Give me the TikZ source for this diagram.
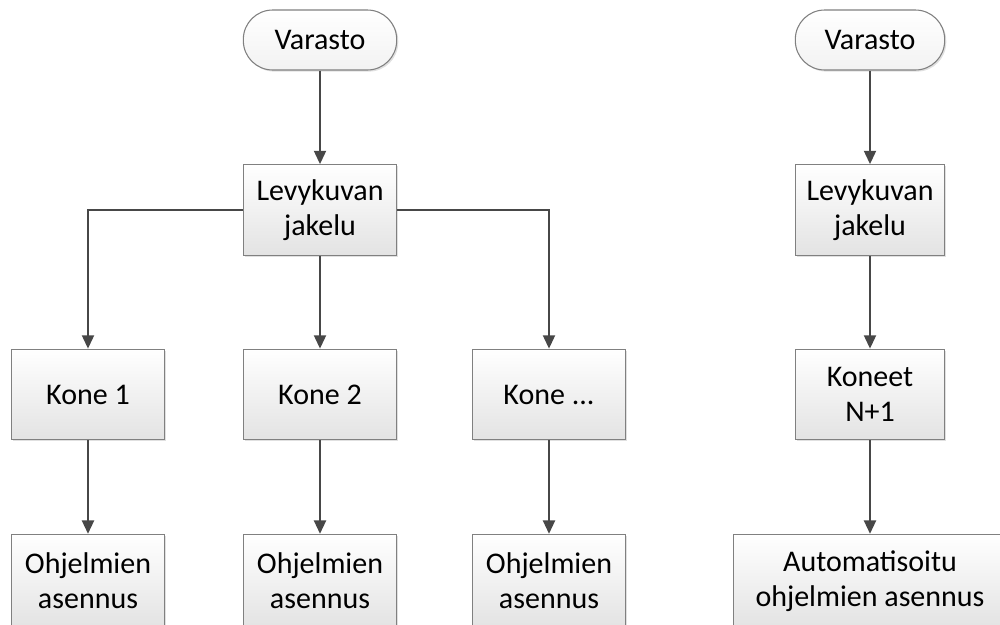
\documentclass[tikz,border=0pt]{standalone}
\usepackage{fontspec}
\setmainfont{Carlito}
\usetikzlibrary{arrows.meta,shadows}
\begin{document}
\begin{tikzpicture}[x=0.75pt,y=-0.75pt,
  every node/.style={font=\fontsize{22.5}{26}\selectfont, align=center, inner sep=0pt},
  boxstyle/.style={draw=black!50, line width=0.8pt, top color=white, bottom color=black!11,
    minimum width=115pt, minimum height=68pt,
    drop shadow={shadow xshift=1.2pt, shadow yshift=-1.2pt, fill=black!30, opacity=0.4}},
  termstyle/.style={boxstyle, rounded corners=22pt, minimum height=45pt, top color=white, bottom color=black!5},
  conn/.style={draw=black!72, line width=1.5pt, -{Triangle[width=9pt,length=10pt]}}
]
\useasboundingbox (0,0) rectangle (1000,625);
% left column
\node[termstyle] (v1) at (320,40) {Varasto};
\node[boxstyle] (l1) at (320,210) {Levykuvan\\jakelu};
\node[boxstyle] (k1) at (88,394.5) {Kone 1};
\node[boxstyle] (k2) at (320,394.5) {Kone 2};
\node[boxstyle] (k3) at (549,394.5) {Kone ...};
\node[boxstyle, minimum height=70pt] (o1) at (88,581) {Ohjelmien\\asennus};
\node[boxstyle, minimum height=70pt] (o2) at (320,581) {Ohjelmien\\asennus};
\node[boxstyle, minimum height=70pt] (o3) at (549,581) {Ohjelmien\\asennus};
% right column
\node[termstyle, minimum width=112pt] (v2) at (870,40) {Varasto};
\node[boxstyle, minimum width=112pt] (l2) at (870,210) {Levykuvan\\jakelu};
\node[boxstyle, minimum width=112pt] (k4) at (870,394.5) {Koneet\\N+1};
\node[boxstyle, minimum height=70pt, minimum width=205pt] (o4) at (870,581) {Automatisoitu\\ohjelmien asennus};
% connectors
\draw[conn] (v1) -- (l1);
\draw[conn] (l1.west) -| (k1.north);
\draw[conn] (l1) -- (k2);
\draw[conn] (l1.east) -| (k3.north);
\draw[conn] (k1) -- (o1);
\draw[conn] (k2) -- (o2);
\draw[conn] (k3) -- (o3);
\draw[conn] (v2) -- (l2);
\draw[conn] (l2) -- (k4);
\draw[conn] (k4) -- (o4);
\end{tikzpicture}
\end{document}
